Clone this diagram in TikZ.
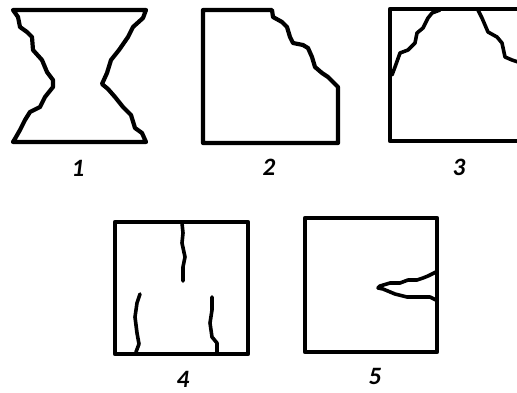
\documentclass[tikz,border=0pt]{standalone}
\usepackage{fontspec}
\setmainfont{Carlito}
\begin{document}
\begin{tikzpicture}[x=1pt,y=-1pt,
  edge/.style={line width=4.2pt,line join=round,line cap=round},
  crack/.style={line width=3.6pt,line join=round,line cap=round},
  lbl/.style={inner sep=0pt,font=\fontsize{25}{25}\selectfont\bfseries\itshape,text=black}]
\useasboundingbox (0,0) rectangle (517,392);
\clip (0,0) rectangle (517,392);
% figure 1
\draw[edge] (13,10) -- (146,10) -- (143,18) -- (133,27) -- (128,37) -- (119,50) -- (111,60) -- (107,73) -- (102,84) -- (108,89) -- (115,97) -- (123,107) -- (131,115) -- (135,128) -- (142,133) -- (146,142) -- (13,142) -- (16,137) -- (20,130) -- (25,120) -- (30,112) -- (40,107) -- (45,97) -- (53,87) -- (53,80) -- (47,72) -- (42,60) -- (33,50) -- (32,37) -- (27,32) -- (20,27) -- (18,17) -- cycle;
% figure 2
\draw[edge] (272,10) -- (203,10) -- (203,143) -- (338,143) -- (338,87) -- (333,82) -- (328,77) -- (322,73) -- (315,67) -- (312,57) -- (308,48) -- (303,45) -- (293,43) -- (290,37) -- (287,27) -- (282,22) -- (273,17) -- cycle;
% figure 3
\draw[edge] (390,9) rectangle (530,141);
\draw[crack] (392,75) -- (395,67) -- (400,53) -- (408,50) -- (415,43) -- (417,33) -- (423,28) -- (428,18) -- (432,13) -- (440,10);
\draw[crack] (478,10) -- (482,18) -- (488,32) -- (497,37) -- (502,43) -- (505,57) -- (512,60) -- (518,62);
% figure 4
\draw[edge] (115,222) rectangle (248,354);
\draw[crack] (182,223) -- (183,233) -- (182,243) -- (185,257) -- (183,267) -- (183,281);
\draw[crack] (140,294) -- (137,303) -- (135,317) -- (137,333) -- (139,344) -- (136,352);
\draw[crack] (212,297) -- (212,310) -- (210,323) -- (212,337) -- (217,343) -- (217,353);
% figure 5
\draw[edge] (305,218) rectangle (437,352);
\draw[crack] (436,272) -- (428,276) -- (423,278) -- (417,280) -- (408,280) -- (400,283) -- (390,283) -- (380,286) -- (378,288) -- (383,289) -- (395,294) -- (407,297) -- (417,297) -- (430,297) -- (436,300);
% labels
\node[lbl] (l1) at (78,168) {1};
\node[lbl] (l2) at (269,167) {2};
\node[lbl] (l3) at (459,167) {3};
\node[lbl] (l4) at (183,379) {4};
\node[lbl] (l5) at (375,376) {5};
\end{tikzpicture}
\end{document}
